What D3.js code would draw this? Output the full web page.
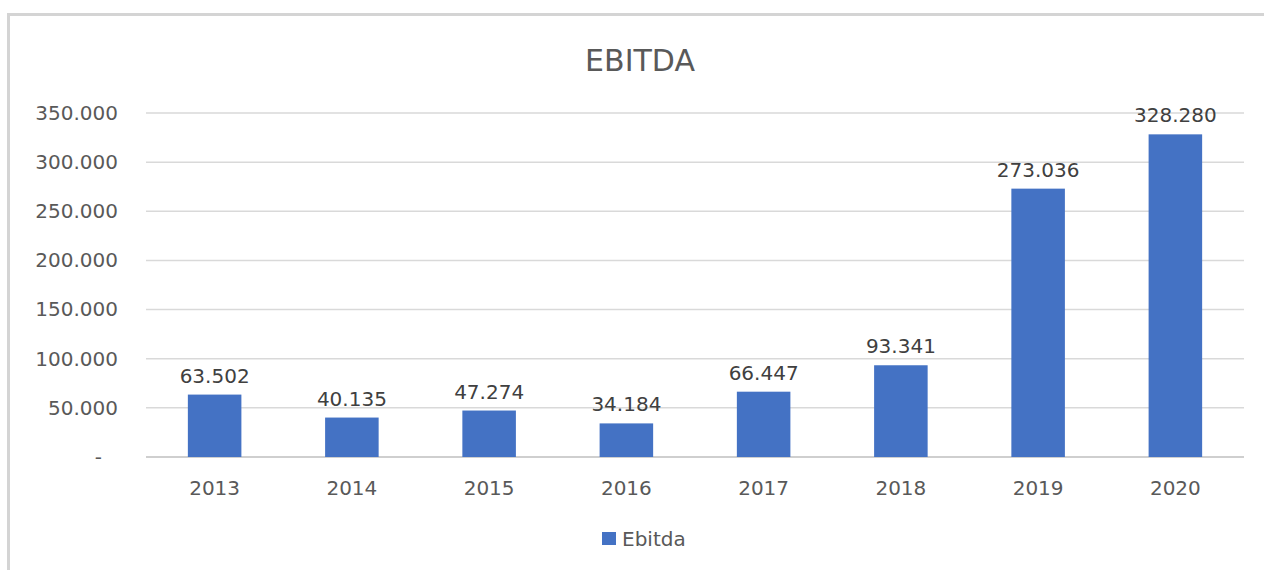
<!DOCTYPE html>
<html>
<head>
<meta charset="utf-8">
<title>EBITDA</title>
<script src="https://cdn.jsdelivr.net/npm/d3@7"></script>
<style>
	html, body { margin: 0; padding: 0; background: #fff; }
	#chart { width: 1264px; height: 570px; }
	text { font-family: "DejaVu Sans", sans-serif; fill: #595959; }
	.grid line { stroke: #d9d9d9; stroke-width: 1.5; }
	.grid .baseline { stroke: #bfbfbf; }
</style>
</head>
<body>
<div id="chart"></div>
<script>
/* eslint-disable no-magic-numbers */

var years = ["2013", "2014", "2015", "2016", "2017", "2018", "2019", "2020"];
var ebitda = [63502, 40135, 47274, 34184, 66447, 93341, 273036, 328280];
var yTicks = [0, 50000, 100000, 150000, 200000, 250000, 300000, 350000];
var seriesName = "Ebitda";
var chartTitle = "EBITDA";

(function() {
	'use strict';

	var origWidth = 1264,
		origHeight = 570,
		margin = { top: 113, right: 20, bottom: 113, left: 146 },
		width = 1244 - margin.left,
		height = 457 - margin.top,
		barColor = "#4472C4",
		locale = d3.formatLocale({ decimal: ",", thousands: ".", grouping: [3], currency: ["", ""] }),
		fmt = locale.format(",d"),
		tickFmt = function(d) { return d === 0 ? "-" : fmt(d); };

	var data = years.map(function(y, i) { return { year: y, value: ebitda[i] }; });

	var svg = d3.select("#chart").append("svg")
		.attr("width", origWidth)
		.attr("height", origHeight)
		.attr("viewBox", "0 0 " + origWidth + " " + origHeight);

	// outer chart frame, cut off at right and bottom like the screenshot
	svg.append("rect")
		.attr("x", 8.5)
		.attr("y", 14.5)
		.attr("width", 1300)
		.attr("height", 600)
		.attr("fill", "#fff")
		.attr("stroke", "#d4d4d4")
		.attr("stroke-width", 3);

	svg.append("text")
		.attr("x", 640)
		.attr("y", 71)
		.attr("text-anchor", "middle")
		.style("font-size", "30px")
		.text(chartTitle);

	var g = svg.append("g")
		.attr("transform", "translate(" + margin.left + "," + margin.top + ")");

	var x = d3.scaleBand()
		.domain(years)
		.range([0, width])
		.paddingInner(0.61)
		.paddingOuter(0.305);

	var y = d3.scaleLinear()
		.domain([0, d3.max(yTicks)])
		.range([height, 0]);

	// gridlines
	g.append("g")
		.attr("class", "grid")
		.selectAll("line")
		.data(yTicks)
		.join("line")
		.attr("class", function(d) { return d === 0 ? "baseline" : null; })
		.attr("x1", 0)
		.attr("x2", width)
		.attr("y1", function(d) { return y(d); })
		.attr("y2", function(d) { return y(d); });

	// y axis labels, accounting style dash for zero sits further left
	g.append("g")
		.call(d3.axisLeft(y).tickValues(yTicks).tickFormat(tickFmt).tickSize(0).tickPadding(28))
		.call(function(a) { a.select(".domain").remove(); })
		.selectAll("text")
		.style("font-size", "20px")
		.style("fill", "#595959")
		.attr("font-family", null)
		.attr("dx", function(d) { return d === 0 ? -16 : 0; });

	// x axis labels
	g.append("g")
		.attr("transform", "translate(0," + height + ")")
		.call(d3.axisBottom(x).tickSize(0).tickPadding(24))
		.call(function(a) { a.select(".domain").remove(); })
		.selectAll("text")
		.style("font-size", "20px")
		.style("fill", "#595959")
		.attr("font-family", null);

	g.append("g")
		.selectAll("rect")
		.data(data)
		.join("rect")
		.attr("x", function(d) { return x(d.year); })
		.attr("y", function(d) { return y(d.value); })
		.attr("width", x.bandwidth())
		.attr("height", function(d) { return height - y(d.value); })
		.attr("fill", barColor);

	g.append("g")
		.selectAll("text")
		.data(data)
		.join("text")
		.attr("x", function(d) { return x(d.year) + x.bandwidth() / 2; })
		.attr("y", function(d) { return y(d.value) - 12; })
		.attr("text-anchor", "middle")
		.style("font-size", "20px")
		.style("fill", "#404040")
		.text(function(d) { return fmt(d.value); });

	// legend
	var legend = svg.append("g")
		.attr("transform", "translate(602,539)");

	legend.append("rect")
		.attr("x", 0)
		.attr("y", -7)
		.attr("width", 14)
		.attr("height", 13)
		.attr("fill", barColor);

	legend.append("text")
		.attr("x", 20)
		.attr("y", 7)
		.style("font-size", "20px")
		.text(seriesName);
})();
</script>
</body>
</html>
